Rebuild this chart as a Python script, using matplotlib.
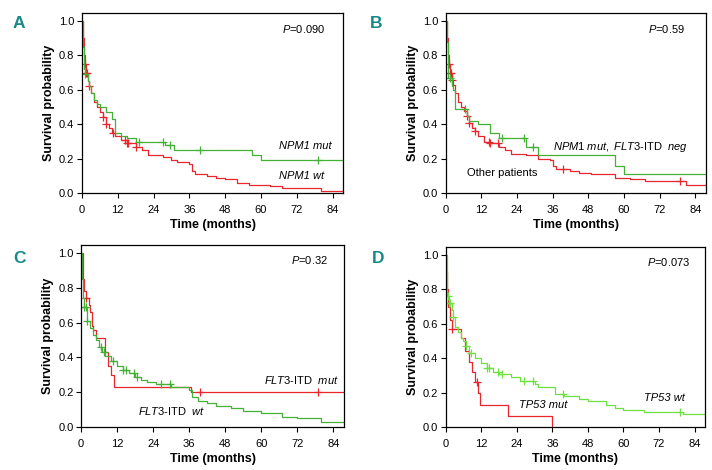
import numpy as np
import matplotlib
matplotlib.use("Agg")
import matplotlib.pyplot as plt

plt.rcParams['font.family'] = ['Liberation Sans', 'DejaVu Sans']
plt.rcParams['mathtext.fontset'] = 'custom'
plt.rcParams['mathtext.rm'] = 'Liberation Sans'
plt.rcParams['mathtext.it'] = 'Liberation Sans:italic'

ROUGE = "#e8262d"
VERT = "#45b036"
VERT_CLAIR = "#6ee040"
TEAL = "#17898a"
XMAX = 87.5

# ---- Panel A : NPM1 ----
a_mut_t = [0, 0.5, 0.8, 1, 2, 2.5, 3, 4, 5, 6, 8, 10, 11, 13, 15, 18, 28, 31, 57, 60]
a_mut_s = [1.0, 0.85, 0.72, 0.69, 0.65, 0.62, 0.58, 0.54, 0.52, 0.50, 0.47, 0.43, 0.35, 0.33, 0.32, 0.30, 0.28, 0.25, 0.22, 0.19]
a_mut_c = [1, 19, 27, 29.5, 39.5, 79]
a_wt_t = [0, 0.3, 0.6, 1, 1.5, 2, 2.5, 3, 4, 5, 6, 7, 8, 9, 10, 11, 13, 15, 18, 20, 22, 27, 30, 32, 36, 37, 38, 42, 45, 48, 52, 56, 63, 67, 80]
a_wt_s = [1.0, 0.9, 0.8, 0.75, 0.70, 0.65, 0.62, 0.58, 0.53, 0.50, 0.47, 0.44, 0.40, 0.38, 0.35, 0.33, 0.31, 0.29, 0.27, 0.25, 0.22, 0.21, 0.19, 0.18, 0.17, 0.13, 0.11, 0.10, 0.09, 0.08, 0.06, 0.05, 0.04, 0.03, 0.015]
a_wt_c = [1, 1.5, 1.8, 2.5, 7, 8, 10.5, 14.5, 15, 15.5, 18]

# ---- Panel B : NPM1 mut / FLT3-ITD neg ----
b_grp_t = [0, 0.3, 0.8, 2, 2.5, 3, 7, 8, 11, 15, 18, 27, 31, 57, 60]
b_grp_s = [1.0, 0.88, 0.67, 0.62, 0.60, 0.49, 0.45, 0.42, 0.40, 0.35, 0.32, 0.27, 0.22, 0.16, 0.11]
b_grp_c = [1.5, 6.5, 19, 26.5, 29.5]
b_aut_t = [0, 0.3, 0.7, 1, 1.5, 2, 2.5, 3, 4, 5, 6, 7, 8, 9, 10, 11, 13, 15, 18, 20, 22, 27, 31, 35, 36, 37, 42, 45, 49, 57, 62, 67, 81]
b_aut_s = [1.0, 0.9, 0.8, 0.75, 0.70, 0.66, 0.63, 0.58, 0.53, 0.50, 0.48, 0.45, 0.41, 0.38, 0.36, 0.33, 0.30, 0.29, 0.27, 0.25, 0.23, 0.22, 0.20, 0.19, 0.16, 0.14, 0.13, 0.12, 0.11, 0.09, 0.08, 0.07, 0.05]
b_aut_c = [1, 1.5, 1.8, 2.2, 7, 8, 10, 14.5, 15, 17.5, 39.5, 79]

# ---- Panel C : FLT3-ITD ----
c_mut_t = [0, 0.5, 1, 1.5, 2.5, 3, 3.5, 4, 5, 8, 9, 10, 11, 36.5]
c_mut_s = [1.0, 0.85, 0.78, 0.74, 0.70, 0.66, 0.58, 0.56, 0.51, 0.43, 0.35, 0.30, 0.23, 0.20]
c_mut_c = [1.5, 39.5, 79]
c_wt_t = [0, 0.3, 0.6, 1, 2, 3, 4, 5, 6, 7, 8, 10, 12, 14, 16, 18, 20, 22, 25, 30, 36, 37, 39, 42, 45, 50, 54, 60, 67, 72, 80]
c_wt_s = [1.0, 0.85, 0.74, 0.69, 0.61, 0.57, 0.53, 0.50, 0.46, 0.43, 0.41, 0.38, 0.35, 0.33, 0.31, 0.29, 0.27, 0.26, 0.25, 0.23, 0.21, 0.17, 0.15, 0.14, 0.12, 0.11, 0.09, 0.08, 0.06, 0.05, 0.03]
c_wt_c = [1, 1.5, 2, 6.5, 7.5, 10.5, 14, 15, 17.5, 18.5, 26.5, 29.5]

# ---- Panel D : TP53 ----
d_mut_t = [0, 0.2, 0.5, 0.8, 1.5, 2, 5, 6.5, 8, 9, 10, 11, 11.5, 21, 36]
d_mut_s = [1.0, 0.9, 0.8, 0.70, 0.62, 0.57, 0.52, 0.44, 0.38, 0.32, 0.26, 0.20, 0.13, 0.065, 0.0]
d_mut_c = [2, 10.5]
d_wt_t = [0, 0.3, 0.6, 1, 2, 2.5, 3, 4, 5, 6, 7, 8, 10, 12, 14, 16, 18, 22, 25, 30, 31, 37, 40, 45, 48, 54, 57, 60, 67, 80]
d_wt_s = [1.0, 0.85, 0.76, 0.72, 0.68, 0.64, 0.58, 0.55, 0.52, 0.50, 0.47, 0.43, 0.40, 0.37, 0.34, 0.32, 0.31, 0.29, 0.27, 0.25, 0.23, 0.19, 0.18, 0.16, 0.15, 0.13, 0.11, 0.10, 0.09, 0.075]
d_wt_c = [0.8, 1.2, 1.5, 2.5, 7, 8.5, 14, 14.5, 17.5, 19, 26.5, 29.5, 39.5, 79]

x_ticks = [0, 12, 24, 36, 48, 60, 72, 84]
y_ticks = [0.0, 0.2, 0.4, 0.6, 0.8, 1.0]


def courbe_km(ax, temps, surv, censures, couleur, fin=XMAX):
    """Trace une courbe de Kaplan-Meier en escalier + marques de censure."""
    t = list(temps)
    s = list(surv)
    if s[-1] > 0:
        # prolonge le dernier palier jusqu'au bord de l'axe
        t.append(fin)
        s.append(s[-1])
    ax.step(t, s, where="post", color=couleur, lw=0.9)
    # valeur de survie au moment de chaque censure
    idx = np.searchsorted(temps, censures, side="right") - 1
    sc = np.array(surv)[idx]
    ax.plot(censures, sc, ls="none", marker="+", ms=6, mew=0.9, color=couleur)


def mise_en_forme(ax):
    ax.set_xlim(0, XMAX)
    ax.set_ylim(0, 1.046)
    ax.set_xticks(x_ticks)
    ax.set_yticks(y_ticks)
    ax.set_yticklabels([f"{v:.1f}" for v in y_ticks])
    ax.tick_params(labelsize=8, length=3.5, width=0.8, pad=2)
    ax.tick_params(axis="x", pad=5)
    for sp in ax.spines.values():
        sp.set_linewidth(0.9)
    ax.set_xlabel("Time (months)", fontsize=9, fontweight="bold", labelpad=3)
    ax.set_ylabel("Survival probability", fontsize=9, fontweight="bold", labelpad=3)


fig = plt.figure(figsize=(7.12, 4.70), dpi=100)
axA = fig.add_axes([0.115, 0.589, 0.367, 0.383])
axB = fig.add_axes([0.626, 0.589, 0.365, 0.383])
axC = fig.add_axes([0.114, 0.0915, 0.369, 0.387])
axD = fig.add_axes([0.626, 0.0915, 0.364, 0.383])

# A
courbe_km(axA, a_wt_t, a_wt_s, a_wt_c, ROUGE)
courbe_km(axA, a_mut_t, a_mut_s, a_mut_c, VERT)
mise_en_forme(axA)
axA.text(67, 0.955, "$\\it{P}$=0.090", fontsize=8, va="center")
axA.text(66, 0.276, "NPM1 mut", fontsize=8, style="italic", va="center")
axA.text(66, 0.097, "NPM1 wt", fontsize=8, style="italic", va="center")

# B
courbe_km(axB, b_aut_t, b_aut_s, b_aut_c, ROUGE)
courbe_km(axB, b_grp_t, b_grp_s, b_grp_c, VERT)
mise_en_forme(axB)
axB.text(68, 0.955, "$\\it{P}$=0.59", fontsize=8, va="center")
axB.text(36, 0.27, "$\\it{NPM1\\ mut,\\ FLT3}$-ITD  $\\it{neg}$", fontsize=8, va="center")
axB.text(7, 0.12, "Other patients", fontsize=8, va="center")

# C
courbe_km(axC, c_mut_t, c_mut_s, c_mut_c, ROUGE)
courbe_km(axC, c_wt_t, c_wt_s, c_wt_c, VERT)
mise_en_forme(axC)
axC.text(70, 0.96, "$\\it{P}$=0.32", fontsize=8, va="center")
axC.text(61, 0.27, "$\\it{FLT3}$-ITD  $\\it{mut}$", fontsize=8, va="center")
axC.text(19, 0.09, "$\\it{FLT3}$-ITD  $\\it{wt}$", fontsize=8, va="center")

# D
courbe_km(axD, d_mut_t, d_mut_s, d_mut_c, ROUGE)
courbe_km(axD, d_wt_t, d_wt_s, d_wt_c, VERT_CLAIR)
mise_en_forme(axD)
axD.text(68, 0.96, "$\\it{P}$=0.073", fontsize=8, va="center")
axD.text(24.7, 0.13, "TP53 mut", fontsize=8, style="italic", va="center")
axD.text(67, 0.17, "TP53 wt", fontsize=8, style="italic", va="center")

# lettres des panneaux
for lettre, (x, y) in zip("ABCD", [(0.018, 0.95), (0.519, 0.95), (0.018, 0.45), (0.522, 0.45)]):
    fig.text(x, y, lettre, fontsize=12.5, fontweight="bold", color=TEAL, va="center")

fig.savefig("out.png", dpi=100)
